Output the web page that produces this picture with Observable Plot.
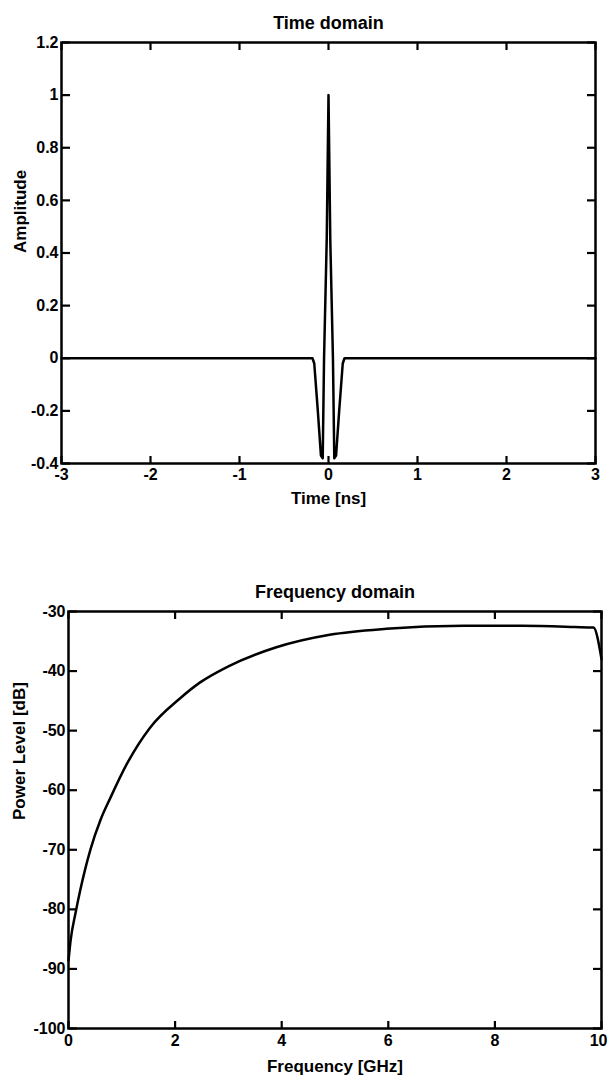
<!DOCTYPE html>
<html>
<head>
<meta charset="utf-8">
<script src="https://cdn.jsdelivr.net/npm/d3@7"></script>
<script src="https://cdn.jsdelivr.net/npm/@observablehq/plot@0.6"></script>
<style>
  html, body { margin: 0; padding: 0; background: #fff; }
  #chart svg { display: block; }
</style>
</head>
<body>
<div id="chart"></div>
<script>
// ---- Data ----
const timeNs =    [-3, -0.18, -0.16, -0.12, -0.085, -0.065, -0.05, -0.02, 0, 0.02, 0.05, 0.065, 0.085, 0.12, 0.16, 0.18, 3];
const amplitude = [ 0,  0,    -0.02, -0.2,  -0.37,  -0.38,   0,     0.45, 1.0, 0.45, 0, -0.38, -0.37, -0.2, -0.02, 0, 0];

const freqGHz = [0, 0.04, 0.13, 0.22, 0.41, 0.6, 0.79, 1.1, 1.53, 2.09, 2.47, 3.0, 3.9, 4.9, 5.96, 7.4, 8.5, 9.5, 9.85, 10];
const powerDb = [-88.6, -85.2, -80.7, -76.8, -70, -65, -61.2, -55.5, -49.5, -44.6, -41.9, -39.2, -36.0, -33.9, -32.9, -32.4, -32.4, -32.6, -32.7, -38];

const timeTicks = [-3, -2, -1, 0, 1, 2, 3];
const ampTicks = [-0.4, -0.2, 0, 0.2, 0.4, 0.6, 0.8, 1, 1.2];
const freqTicks = [0, 2, 4, 6, 8, 10];
const powerTicks = [-100, -90, -80, -70, -60, -50, -40, -30];

const topTitle = "Time domain";
const topXLabel = "Time [ns]";
const topYLabel = "Amplitude";
const botTitle = "Frequency domain";
const botXLabel = "Frequency [GHz]";
const botYLabel = "Power Level [dB]";

const fmt = d => String(d);
const font = "'Liberation Sans', Arial, Helvetica, sans-serif";

function panel({xs, ys, xDomain, yDomain, xTicks, yTicks, title, xLabel, yLabel, curve,
                height, mTop, mBottom, mLeft, mRight, xPad, xLabDy, yLabDx}) {
  const data = xs.map((x, i) => ({x, y: ys[i]}));
  const lastX = xTicks[xTicks.length - 1];
  const innerX = xTicks.slice(0, -1);
  return Plot.plot({
    width: 610,
    height,
    marginTop: mTop,
    marginBottom: mBottom,
    marginLeft: mLeft,
    marginRight: mRight,
    style: {fontFamily: font, fontWeight: "bold", fontSize: "16px", color: "black", background: "white", overflow: "visible"},
    x: {domain: xDomain},
    y: {domain: yDomain},
    marks: [
      // inward tick marks on all four sides
      Plot.axisX(xTicks, {anchor: "top", frameAnchor: "bottom", tickSize: 8, fill: "none", strokeWidth: 2.2, label: null}),
      Plot.axisX(xTicks, {anchor: "bottom", frameAnchor: "top", tickSize: 8, fill: "none", strokeWidth: 2.2, label: null}),
      Plot.axisY(yTicks, {anchor: "right", frameAnchor: "left", tickSize: 8, fill: "none", strokeWidth: 2.2, label: null}),
      Plot.axisY(yTicks, {anchor: "left", frameAnchor: "right", tickSize: 8, fill: "none", strokeWidth: 2.2, label: null}),
      // tick labels
      Plot.axisX(innerX, {anchor: "bottom", tickSize: 0, tickPadding: xPad, tickFormat: fmt, label: null, fontWeight: "bold", fontSize: 16}),
      Plot.axisX([lastX], {anchor: "bottom", tickSize: 0, tickPadding: xPad, tickFormat: fmt, label: null, fontWeight: "bold", fontSize: 16,
                           textAnchor: mRight < 12 ? "end" : "middle", dx: mRight < 12 ? 6 : 0}),
      Plot.axisY(yTicks, {anchor: "left", tickSize: 0, tickPadding: 3, tickFormat: fmt, label: null, fontWeight: "bold", fontSize: 16}),
      Plot.frame({stroke: "black", strokeWidth: 2.5}),
      Plot.line(data, {x: "x", y: "y", stroke: "black", strokeWidth: 2.5, curve}),
      // title and axis labels
      Plot.text([title], {frameAnchor: "top", lineAnchor: "middle", dy: -19, fontSize: 18, fontWeight: "bold", fill: "black"}),
      Plot.text([xLabel], {frameAnchor: "bottom", lineAnchor: "middle", dy: xLabDy, fontSize: 17, fontWeight: "bold", fill: "black"}),
      Plot.text([yLabel], {frameAnchor: "left", lineAnchor: "middle", rotate: -90, dx: yLabDx, fontSize: 17, fontWeight: "bold", fill: "black"})
    ]
  });
}

const chart = document.getElementById("chart");
chart.append(panel({
  xs: timeNs, ys: amplitude, xDomain: [-3, 3], yDomain: [-0.4, 1.2],
  xTicks: timeTicks, yTicks: ampTicks, curve: "linear",
  title: topTitle, xLabel: topXLabel, yLabel: topYLabel,
  height: 508, mTop: 42, mBottom: 45, mLeft: 61, mRight: 15,
  xPad: 5, xLabDy: 35, yLabDx: -41
}));
chart.append(panel({
  xs: freqGHz, ys: powerDb, xDomain: [0, 10], yDomain: [-100, -30],
  xTicks: freqTicks, yTicks: powerTicks, curve: "monotone-x",
  title: botTitle, xLabel: botXLabel, yLabel: botYLabel,
  height: 570, mTop: 103, mBottom: 50, mLeft: 68, mRight: 9,
  xPad: 6, xLabDy: 38, yLabDx: -49
}));
</script>
</body>
</html>
